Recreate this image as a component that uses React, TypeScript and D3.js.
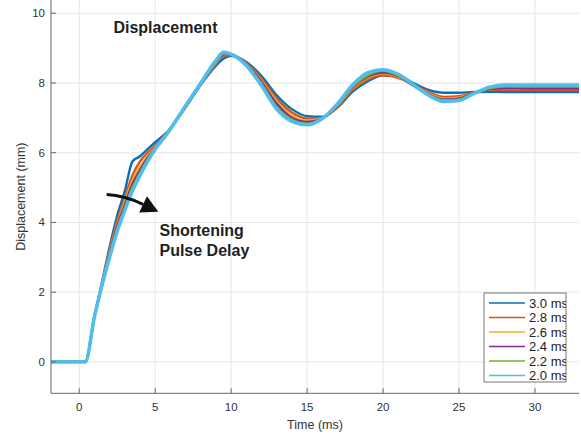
import React from 'react'
import * as d3 from 'd3'

// sample times (ms)
const times = [-2, 0, 0.4, 1, 1.5, 2, 2.5, 3, 3.5, 4, 4.5, 5, 5.8, 7, 8, 9, 9.5, 10, 11, 12, 13, 14, 15, 16, 17, 18, 19, 20, 21, 22, 23, 24, 25, 26, 27, 28, 30, 33]

const delays = ['3.0 ms', '2.8 ms', '2.6 ms', '2.4 ms', '2.2 ms', '2.0 ms']
const colors = ['#0072BD', '#D95319', '#EDB120', '#7E2F8E', '#77AC30', '#4DBEEE']

const d30 = [0, 0, 0, 1.3, 2.3, 3.3, 4.2, 4.9, 5.75, 5.9, 6.1, 6.3, 6.6, 7.3, 7.95, 8.5, 8.7, 8.78, 8.6, 8.2, 7.65, 7.25, 7.05, 7.03, 7.3, 7.75, 8.05, 8.22, 8.2, 8.0, 7.8, 7.72, 7.72, 7.74, 7.75, 7.74, 7.74, 7.74]
const d28 = [0, 0, 0, 1.3, 2.25, 3.2, 4.05, 4.7, 5.35, 5.75, 6.0, 6.2, 6.58, 7.32, 7.97, 8.55, 8.78, 8.8, 8.57, 8.12, 7.55, 7.15, 6.98, 7.0, 7.33, 7.8, 8.1, 8.22, 8.15, 7.95, 7.75, 7.6, 7.62, 7.72, 7.8, 7.8, 7.8, 7.8]
const d26 = [0, 0, 0, 1.3, 2.25, 3.15, 3.95, 4.6, 5.2, 5.6, 5.9, 6.15, 6.57, 7.33, 7.98, 8.58, 8.82, 8.81, 8.55, 8.06, 7.47, 7.07, 6.92, 6.99, 7.36, 7.85, 8.15, 8.28, 8.18, 7.93, 7.7, 7.55, 7.58, 7.72, 7.82, 7.84, 7.84, 7.84]
const d24 = [0, 0, 0, 1.3, 2.22, 3.1, 3.9, 4.5, 5.1, 5.5, 5.85, 6.12, 6.56, 7.33, 7.98, 8.6, 8.83, 8.81, 8.54, 8.02, 7.4, 7.0, 6.88, 6.98, 7.38, 7.88, 8.18, 8.3, 8.2, 7.92, 7.68, 7.52, 7.55, 7.72, 7.82, 7.85, 7.84, 7.84]
const d22 = [0, 0, 0, 1.3, 2.2, 3.05, 3.82, 4.42, 5.0, 5.42, 5.8, 6.1, 6.55, 7.34, 7.99, 8.62, 8.85, 8.82, 8.52, 7.97, 7.32, 6.95, 6.83, 6.98, 7.39, 7.9, 8.22, 8.35, 8.22, 7.94, 7.66, 7.5, 7.52, 7.7, 7.85, 7.9, 7.9, 7.9]
const d20 = [0, 0, 0, 1.3, 2.2, 3.0, 3.75, 4.35, 4.9, 5.35, 5.75, 6.1, 6.55, 7.35, 8.0, 8.65, 8.88, 8.83, 8.5, 7.92, 7.25, 6.9, 6.8, 6.98, 7.4, 7.95, 8.3, 8.38, 8.25, 7.95, 7.65, 7.47, 7.5, 7.7, 7.88, 7.94, 7.94, 7.94]

const series = [d30, d28, d26, d24, d22, d20]

const xTicks = [0, 5, 10, 15, 20, 25, 30]
const yTicks = [0, 2, 4, 6, 8, 10]

const W = 581
const H = 435
const font = '"Liberation Sans", Arial, sans-serif'

export default function App() {
  const x = d3.scaleLinear().domain([-1.86, 32.9]).range([51, 579])
  const y = d3.scaleLinear().domain([-0.9, 10.38]).range([393.3, 0])
  const [x0, x1] = x.range()
  const [yb, yt] = y.range()

  const line = d3
    .line<number>()
    .x((_, i) => x(times[i]))
    .y((d) => y(d))
    .curve(d3.curveMonotoneX)

  // arrow annotation in data space
  const a0: [number, number] = [x(1.8), y(4.8)]
  const ac: [number, number] = [x(3.0), y(4.77)]
  const a1: [number, number] = [x(4.2), y(4.52)]
  const dx = a1[0] - ac[0]
  const dy = a1[1] - ac[1]
  const len = Math.hypot(dx, dy)
  const ux = dx / len
  const uy = dy / len
  const tip = [a1[0] + ux * 17, a1[1] + uy * 17]
  const b1 = [a1[0] - uy * 9, a1[1] + ux * 9]
  const b2 = [a1[0] + uy * 9, a1[1] - ux * 9]

  const lgX = 484
  const lgY = 293
  const lgW = 82
  const lgH = 89

  return (
    <svg width={W} height={H} style={{ position: 'absolute', left: 0, top: 0, background: '#fff' }} fontFamily={font}>
      <defs>
        <clipPath id="plot">
          <rect x={x0} y={yt} width={x1 - x0} height={yb - yt} />
        </clipPath>
        <clipPath id="legend">
          <rect x={lgX} y={lgY} width={lgW} height={lgH} />
        </clipPath>
      </defs>

      {/* grid */}
      <g stroke="#e6e6e6" strokeWidth={1}>
        {xTicks.map((t) => (
          <line key={'gx' + t} x1={x(t)} x2={x(t)} y1={yt} y2={yb} />
        ))}
        {yTicks.map((t) => (
          <line key={'gy' + t} x1={x0} x2={x1} y1={y(t)} y2={y(t)} />
        ))}
      </g>

      {/* series */}
      <g clipPath="url(#plot)" fill="none" strokeLinejoin="round">
        {series.map((s, i) => (
          <path key={delays[i]} d={line(s) || ''} stroke={colors[i]} strokeWidth={i === 5 ? 3.5 : 2.4} />
        ))}
      </g>

      {/* axes */}
      <g stroke="#666" strokeWidth={1}>
        <line x1={x0} x2={x1} y1={yb} y2={yb} />
        <line x1={x0} x2={x0} y1={yt} y2={yb} />
        {xTicks.map((t) => (
          <line key={'tx' + t} x1={x(t)} x2={x(t)} y1={yb} y2={yb - 5} />
        ))}
        {yTicks.map((t) => (
          <line key={'ty' + t} x1={x0} x2={x0 + 5} y1={y(t)} y2={y(t)} />
        ))}
      </g>
      <g fill="#333" fontSize={11.5}>
        {xTicks.map((t) => (
          <text key={'lx' + t} x={x(t)} y={yb + 18} textAnchor="middle">
            {t}
          </text>
        ))}
        {yTicks.map((t) => (
          <text key={'ly' + t} x={x0 - 6} y={y(t) + 4} textAnchor="end">
            {t}
          </text>
        ))}
      </g>
      <text x={(x0 + x1) / 2} y={429} textAnchor="middle" fontSize={12.5} fill="#333">
        Time (ms)
      </text>
      <text
        transform={`translate(25,${(yt + yb) / 2}) rotate(-90)`}
        textAnchor="middle"
        fontSize={12.5}
        fill="#333"
      >
        Displacement (mm)
      </text>

      {/* annotations */}
      <text x={x(2.25)} y={y(9.43)} fontSize={16} fontWeight="bold" fill="#222">
        Displacement
      </text>
      <text x={x(5.28)} y={y(3.62)} fontSize={16} fontWeight="bold" fill="#222">
        Shortening
      </text>
      <text x={x(5.28)} y={y(3.05)} fontSize={16} fontWeight="bold" fill="#222">
        Pulse Delay
      </text>
      <path
        d={`M${a0[0]},${a0[1]} Q${ac[0]},${ac[1]} ${a1[0]},${a1[1]}`}
        fill="none"
        stroke="#111"
        strokeWidth={3}
      />
      <polygon points={`${tip[0]},${tip[1]} ${b1[0]},${b1[1]} ${b2[0]},${b2[1]}`} fill="#111" />

      {/* legend */}
      <rect x={lgX} y={lgY} width={lgW} height={lgH} fill="#fff" stroke="#777" strokeWidth={1} />
      <g clipPath="url(#legend)">
        {delays.map((d, i) => (
          <g key={d} transform={`translate(0,${lgY + 10 + i * 14.5})`}>
            <line x1={lgX + 5} x2={lgX + 41} y1={0} y2={0} stroke={colors[i]} strokeWidth={1.5} />
            <text x={lgX + 45} y={4.5} fontSize={13} fill="#222">
              {d}
            </text>
          </g>
        ))}
      </g>
    </svg>
  )
}
